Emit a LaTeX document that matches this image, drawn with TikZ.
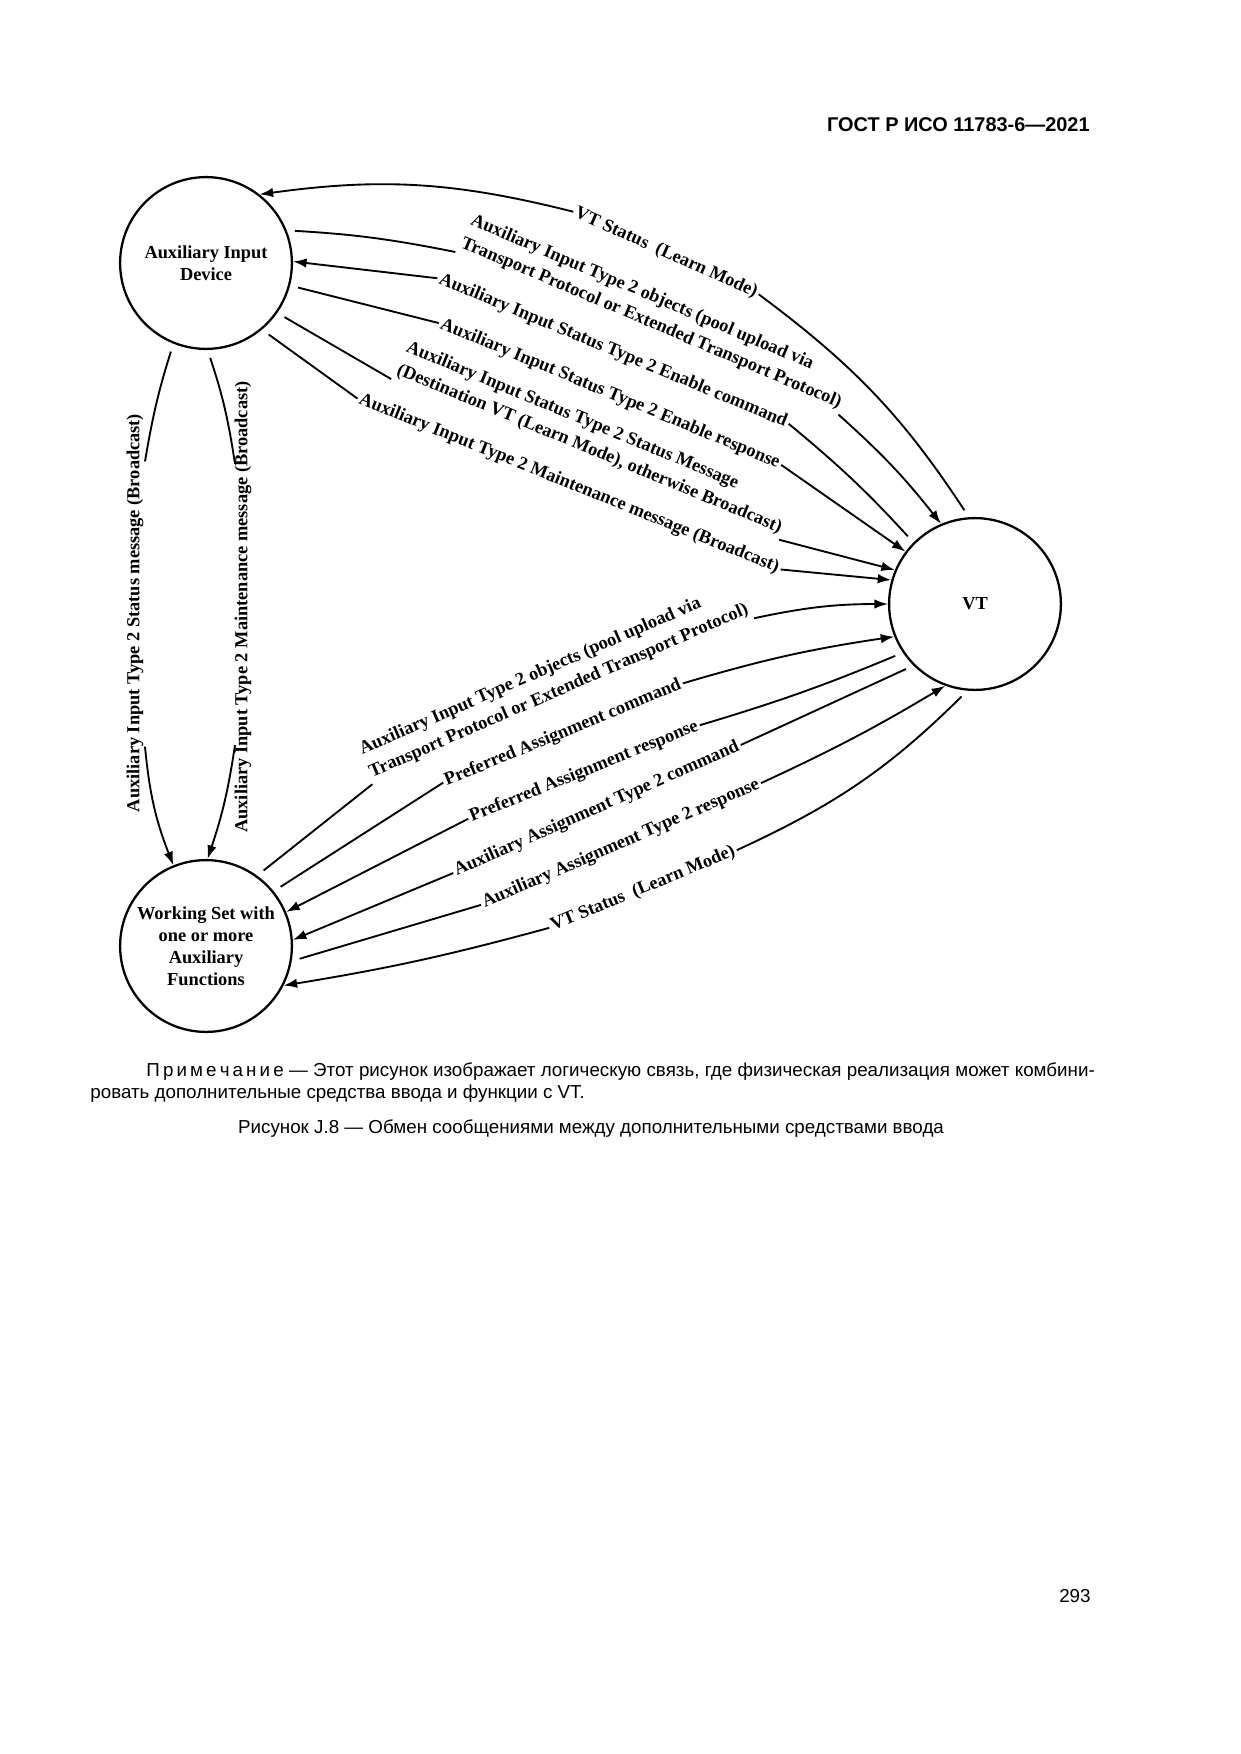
\documentclass[tikz,border=0pt]{standalone}
\usepackage{fontspec}
\setmainfont{Liberation Serif}
\newfontfamily\gostfont{Liberation Sans}
\usetikzlibrary{arrows.meta}

\begin{document}
\begin{tikzpicture}[x=0.016935cm, y=-0.016935cm,
    >={Latex[length=2.3mm,width=1.6mm]},
    unit/.style={circle, draw, line width=1.1pt, minimum size=29.1mm, inner sep=0pt,
        align=center, font=\bfseries\fontsize{8.85}{10.6}\selectfont},
    msg/.style={inner sep=1pt, font=\bfseries\fontsize{8.85}{11.9}\selectfont},
    link/.style={line width=0.9pt},
    tail/.style={shorten <=1.4mm},
    pagetext/.style={inner sep=0pt, font=\gostfont\fontsize{9.05}{11}\selectfont}]
    \useasboundingbox (0,0) rectangle (1240,1754);

    % Header
    \node[pagetext, anchor=east, font=\gostfont\bfseries\fontsize{9.6}{11}\selectfont] (gost) at (1090,125) {ГОСТ Р ИСО 11783-6—2021};

    % Draw the three units
    \node[unit] (aux) at (206,263) {Auxiliary Input\\Device};
    \node[unit] (vt) at (975,604) {VT};
    \node[unit] (ws) at (206,946) {Working Set with\\one or more\\Auxiliary\\Functions};

    % Labels between Aux and VT
    \node[msg, rotate=-24] (t1) at (666,253) {VT Status~ (Learn Mode)};
    \node[msg, rotate=-23, align=left] (t2) at (656,312) {Auxiliary Input Type 2 objects (pool upload via\\Transport Protocol or Extended Transport Protocol)};
    \node[msg, rotate=-22.5] (t3) at (613,351) {Auxiliary Input Status Type 2 Enable command};
    \node[msg, rotate=-22.5] (t4) at (610,394) {Auxiliary Input Status Type 2 Enable response};
    \node[msg, rotate=-22.5, align=left] (t5) at (594,438) {Auxiliary Input Status Type 2 Status Message\\(Destination VT (Learn Mode), otherwise Broadcast)};
    \node[msg, rotate=-22] (t6) at (569,484) {Auxiliary Input Type 2 Maintenance message (Broadcast)};

    % Arrows between Aux and VT
    \draw[link, tail] (vt.94) to[bend right=10] (t1.east);
    \draw[link, ->] (t1.west) to[bend right=11] (aux.52);
    \draw[link, tail] (aux.22) to[bend left=4] (t2.south west);
    \draw[link, ->] (t2.south east) to[bend left=5] (vt.113);
    \draw[link, tail] (vt.135) to[bend right=4] (t3.east);
    \draw[link, ->] (t3.west) -- (aux.1);
    \draw[link, tail] (aux.-15) -- (t4.west);
    \draw[link, ->] (t4.east) -- (vt.143);
    \draw[link, tail] (aux.-35) -- (t5.south west);
    \draw[link, ->] (t5.south east) -- (vt.157);
    \draw[link, tail] (aux.-50) -- (t6.west);
    \draw[link, ->] (t6.east) -- (vt.164);

    % Labels between WS and VT
    \node[msg, rotate=23.5, align=left] (b1) at (554,680) {Auxiliary Input Type 2 objects (pool upload via\\Transport Protocol or Extended Transport Protocol)};
    \node[msg, rotate=22.5] (b2) at (563,733) {Preferred Assignment command};
    \node[msg, rotate=22] (b3) at (584,772) {Preferred Assignment response};
    \node[msg, rotate=24] (b4) at (597,809) {Auxiliary Assignment Type 2 command};
    \node[msg, rotate=23.5] (b5) at (621,844) {Auxiliary Assignment Type 2 response};
    \node[msg, rotate=22.5] (b6) at (643,889) {VT Status~ (Learn Mode)};

    % Arrows between WS and VT
    \draw[link, tail] (ws.54) -- (b1.south west);
    \draw[link, ->] (b1.south east) to[bend left=6] (vt.180);
    \draw[link, tail] (ws.39) -- (b2.west);
    \draw[link, ->] (b2.east) to[bend left=4] (vt.202);
    \draw[link, tail] (vt.214) to[bend left=3] (b3.east);
    \draw[link, ->] (b3.west) -- (ws.23);
    \draw[link, tail] (vt.225) -- (b4.east);
    \draw[link, ->] (b4.west) -- (ws.4);
    \draw[link, tail] (ws.-10) -- (b5.west);
    \draw[link, ->] (b5.east) to[bend right=3] (vt.250);
    \draw[link, tail] (vt.265) to[bend left=10] (b6.east);
    \draw[link, ->] (b6.west) to[bend left=3] (ws.-27);

    % Labels and arrows between Aux and WS
    \node[msg, rotate=90] (v1) at (135,613) {Auxiliary Input Type 2 Status message (Broadcast)};
    \node[msg, rotate=90] (v2) at (243,607) {Auxiliary Input Type 2 Maintenance message (Broadcast)};
    \draw[link, tail] (aux.248) to[bend right=4] ([shift={(10,50)}]v1.east);
    \draw[link, ->] ([shift={(10,-68)}]v1.west) to[bend right=8] (ws.112);
    \draw[link, tail] (aux.271) to[bend left=5] ([shift={(-8,85)}]v2.east);
    \draw[link, ->] ([shift={(-8,-90)}]v2.west) to[bend left=5] (ws.89);

    % Note, caption and page number
    \node[pagetext, anchor=west] (note1) at (146,1072) {\makebox[457pt][s]{П\hspace{1.5pt}р\hspace{1.5pt}и\hspace{1.5pt}м\hspace{1.5pt}е\hspace{1.5pt}ч\hspace{1.5pt}а\hspace{1.5pt}н\hspace{1.5pt}и\hspace{1.5pt}е — Этот рисунок изображает логическую связь, где физическая реализация может комбини-}};
    \node[pagetext, anchor=west] (note2) at (90,1094) {ровать дополнительные средства ввода и функции с VT.};
    \node[pagetext] (caption) at (591,1129) {Рисунок J.8 — Обмен сообщениями между дополнительными средствами ввода};
    \node[pagetext, anchor=east] (page) at (1091,1596) {293};
\end{tikzpicture}
\end{document}
